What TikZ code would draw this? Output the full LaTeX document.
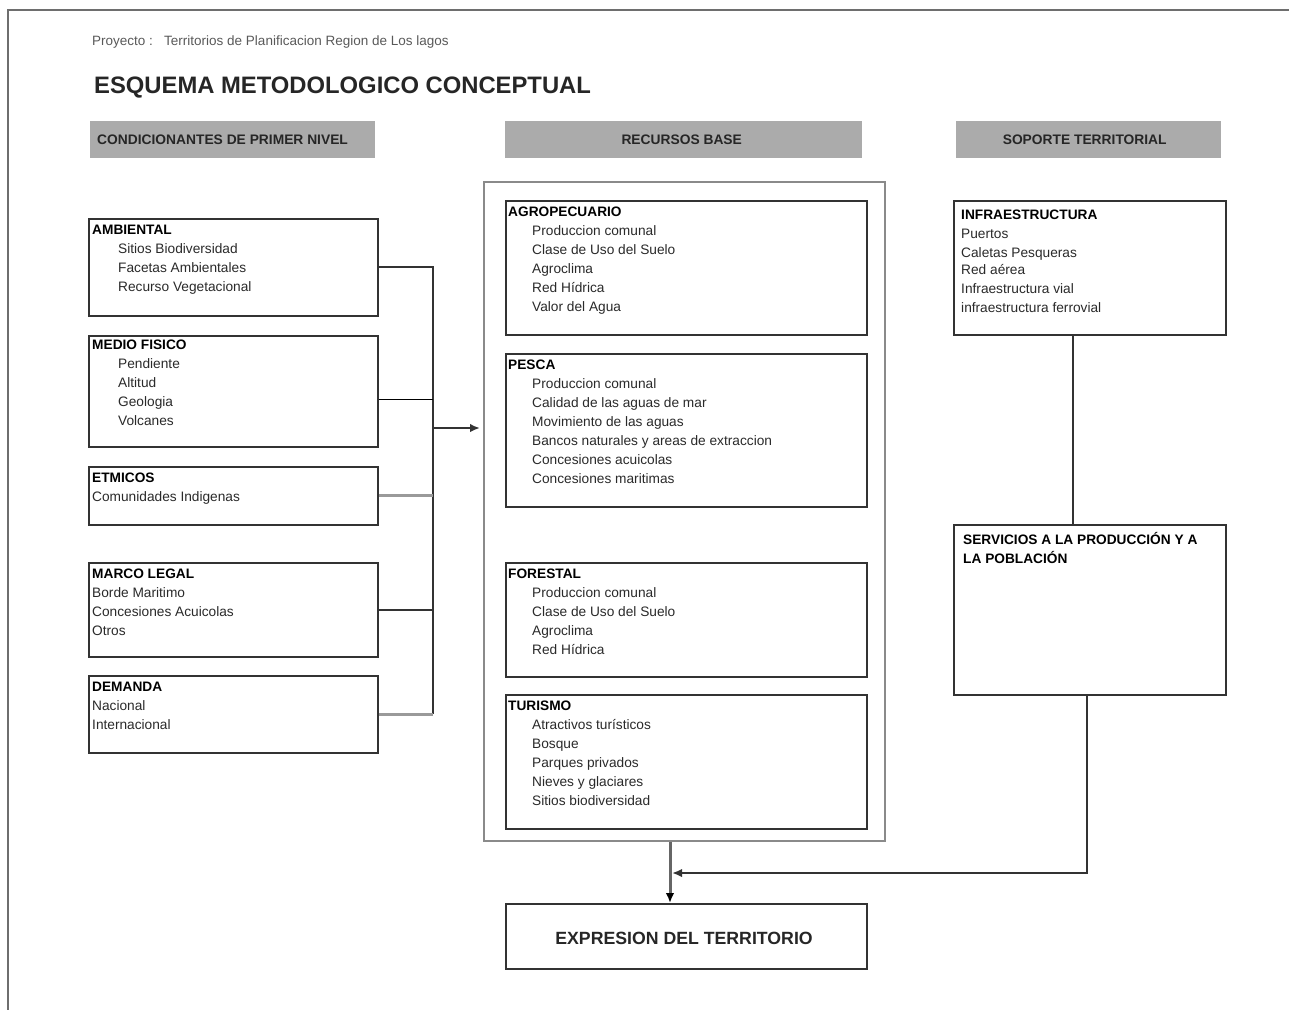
\documentclass[tikz,border=0pt]{standalone}
\usepackage{fontspec}
\setmainfont{Liberation Sans}
\usetikzlibrary{arrows.meta}
\definecolor{hdrfill}{HTML}{ABABAB}
\definecolor{edgedark}{HTML}{333333}
\definecolor{edgebig}{HTML}{8A8A8A}
\definecolor{lgray}{HTML}{9A9A9A}
\definecolor{txtgray}{HTML}{2A2A2A}
\definecolor{framegray}{HTML}{6E6E6E}
\newcommand\indL{\hspace*{26pt}}
\newcommand\indM{\hspace*{24pt}}
\begin{document}
\begin{tikzpicture}[x=1pt,y=-1pt,
  boxd/.style={draw=edgedark, line width=1.8pt, anchor=north west, inner sep=0pt, fill=white},
  bigbox/.style={draw=edgebig, line width=2pt, anchor=north west, inner sep=0pt},
  hdrbar/.style={fill=hdrfill, anchor=north west, inner sep=0pt, minimum height=37pt},
  hdrtxt/.style={inner sep=0pt, font=\fontsize{13.8}{15}\selectfont\bfseries, text=black!85},
  txt/.style={anchor=north west, inner sep=0pt, align=left, font=\fontsize{13.7}{19}\selectfont, text=txtgray},
  conn/.style={draw=edgedark, line width=2pt},
  connthin/.style={draw=black, line width=1.1pt},
  conngray/.style={draw=lgray, line width=3pt},
  tip/.style={-{Latex[length=10pt,width=8.5pt]}}
]
\useasboundingbox (0,0) rectangle (1289,1010);
% page frame
\coordinate (fTL) at (8,10);
\coordinate (fTR) at (1289,10);
\coordinate (fBL) at (8,1010);
\draw[framegray, line width=1.5pt] (fTR) -- (fTL) -- (fBL);

% headings
\node[anchor=west, inner sep=0pt, font=\fontsize{13.5}{15}\selectfont, text=black!65] (proj) at (92,42) {Proyecto :\ \ \ Territorios de Planificacion Region de Los lagos};
\node[anchor=west, inner sep=0pt, font=\fontsize{23.8}{26}\selectfont\bfseries, text=black!85] (title) at (94,88) {ESQUEMA METODOLOGICO CONCEPTUAL};

% header bars
\node[hdrbar, minimum width=285pt] (h1) at (90,121) {};
\node[hdrtxt, anchor=west] (h1t) at ([xshift=7pt]h1.west) {CONDICIONANTES DE PRIMER NIVEL};
\node[hdrbar, minimum width=357pt] (h2) at (505,121) {};
\node[hdrtxt] (h2t) at ([xshift=-2pt]h2.center) {RECURSOS BASE};
\node[hdrbar, minimum width=265pt] (h3) at (956,121) {};
\node[hdrtxt] (h3t) at ([xshift=-4pt]h3.center) {SOPORTE TERRITORIAL};

% left column
\node[boxd, minimum width=289pt, minimum height=97pt] (amb) at (88,218) {};
\node[txt] (ambt) at ([xshift=4pt,yshift=-6.5pt]amb.north west) {\textbf{\textcolor{black}{AMBIENTAL}}\\\indL Sitios Biodiversidad\\\indL Facetas Ambientales\\\indL Recurso Vegetacional};
\node[boxd, minimum width=289pt, minimum height=111pt] (med) at (88,335) {};
\node[txt] (medt) at ([xshift=4pt,yshift=-4.5pt]med.north west) {\textbf{\textcolor{black}{MEDIO FISICO}}\\\indL Pendiente\\\indL Altitud\\\indL Geologia\\\indL Volcanes};
\node[boxd, minimum width=289pt, minimum height=58pt] (etn) at (88,466) {};
\node[txt] (etnt) at ([xshift=4pt,yshift=-6.5pt]etn.north west) {\textbf{\textcolor{black}{ETMICOS}}\\Comunidades Indigenas};
\node[boxd, minimum width=289pt, minimum height=94pt] (leg) at (88,562) {};
\node[txt] (legt) at ([xshift=4pt,yshift=-6.5pt]leg.north west) {\textbf{\textcolor{black}{MARCO LEGAL}}\\Borde Maritimo\\Concesiones Acuicolas\\Otros};
\node[boxd, minimum width=289pt, minimum height=77pt] (dem) at (88,675) {};
\node[txt] (demt) at ([xshift=4pt,yshift=-6.5pt]dem.north west) {\textbf{\textcolor{black}{DEMANDA}}\\Nacional\\Internacional};

% middle column
\node[bigbox, minimum width=401pt, minimum height=659pt] (big) at (483,181) {};
\node[boxd, minimum width=361pt, minimum height=134pt] (agr) at (505,200) {};
\node[txt] (agrt) at ([xshift=3pt,yshift=-6.5pt]agr.north west) {\textbf{\textcolor{black}{AGROPECUARIO}}\\\indM Produccion comunal\\\indM Clase de Uso del Suelo\\\indM Agroclima\\\indM Red H\'idrica\\\indM Valor del Agua};
\node[boxd, minimum width=361pt, minimum height=153pt] (pes) at (505,353) {};
\node[txt] (pest) at ([xshift=3pt,yshift=-6.5pt]pes.north west) {\textbf{\textcolor{black}{PESCA}}\\\indM Produccion comunal\\\indM Calidad de las aguas de mar\\\indM Movimiento de las aguas\\\indM Bancos naturales y areas de extraccion\\\indM Concesiones acuicolas\\\indM Concesiones maritimas};
\node[boxd, minimum width=361pt, minimum height=114pt] (for) at (505,562) {};
\node[txt] (fort) at ([xshift=3pt,yshift=-6.5pt]for.north west) {\textbf{\textcolor{black}{FORESTAL}}\\\indM Produccion comunal\\\indM Clase de Uso del Suelo\\\indM Agroclima\\\indM Red H\'idrica};
\node[boxd, minimum width=361pt, minimum height=134pt] (tur) at (505,694) {};
\node[txt] (turt) at ([xshift=3pt,yshift=-6.5pt]tur.north west) {\textbf{\textcolor{black}{TURISMO}}\\\indM Atractivos tur\'isticos\\\indM Bosque\\\indM Parques privados\\\indM Nieves y glaciares\\\indM Sitios biodiversidad};

% right column
\node[boxd, minimum width=272pt, minimum height=134pt] (inf) at (953,200) {};
\node[txt] (inft) at ([xshift=8pt,yshift=-10pt]inf.north west) {\textbf{\textcolor{black}{INFRAESTRUCTURA}}\\[-0.5pt]Puertos\\[0.5pt]Caletas Pesqueras\\[-2pt]Red a\'erea\\Infraestructura vial\\infraestructura ferrovial};
\node[boxd, minimum width=272pt, minimum height=170pt] (ser) at (953,524) {};
\node[txt] (sert) at ([xshift=10pt,yshift=-8pt]ser.north west) {\textbf{\textcolor{black}{SERVICIOS A LA PRODUCCI\'ON Y A}}\\\textbf{\textcolor{black}{LA POBLACI\'ON}}};

% bottom box
\node[boxd, minimum width=361pt, minimum height=65pt] (exp) at (505,903) {};
\node[font=\fontsize{17.7}{20}\selectfont\bfseries, text=black!85, inner sep=0pt] (expt) at (684,938) {EXPRESION DEL TERRITORIO};

% left connectors
\coordinate (bus) at (433,0);
\coordinate (arrY) at (0,428);
\draw[conn] (amb.east) -- (amb.east -| bus) -- (dem.east -| bus);
\draw[connthin] ([yshift=-8.5pt]med.east) -- ([yshift=-8.5pt]med.east -| bus);
\draw[conngray] (etn.east) -- (etn.east -| bus);
\draw[conn] (leg.east) -- (leg.east -| bus);
\draw[conngray] (dem.east) -- (dem.east -| bus);
\draw[conn, tip] (arrY -| bus) -- ([xshift=-3pt]arrY -| big.west);

% right connectors
\coordinate (vA) at (1073,0);
\coordinate (vB) at (1087,0);
\coordinate (joinY) at (0,873);
\coordinate (down) at (670,0);
\draw[conn, line width=2.4pt] (inf.south -| vA) -- (ser.north -| vA);
\draw[conn, tip] (ser.south -| vB) -- (joinY -| vB) -- ([xshift=2pt]joinY -| down);
\draw[draw=black!60, line width=3pt, -{Latex[length=10pt,width=8.5pt,fill=black,color=black]}] (big.south -| down) -- (exp.north -| down);
\end{tikzpicture}
\end{document}
